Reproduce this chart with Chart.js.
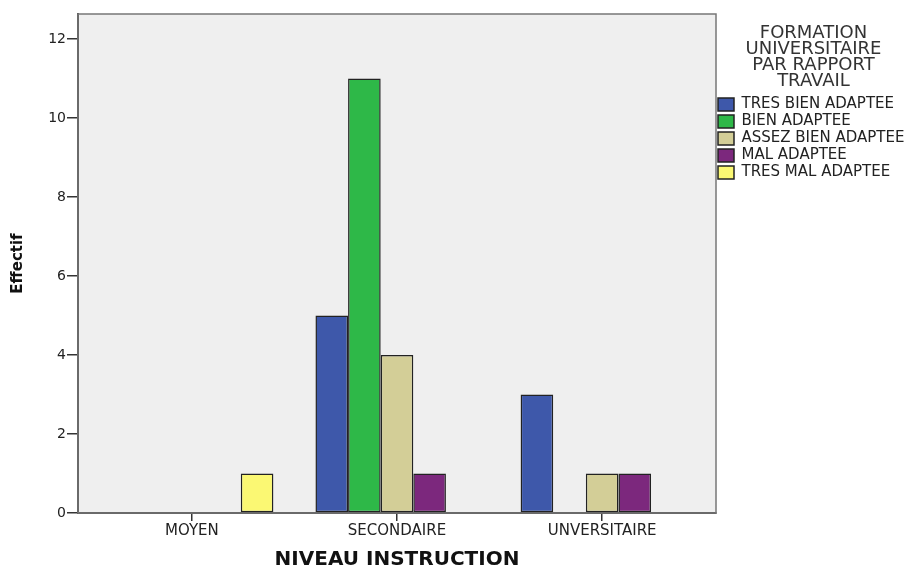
<!DOCTYPE html>
<html lang="fr">
<head>
<meta charset="utf-8">
<title>Effectif par niveau d'instruction</title>
<script src="https://cdn.jsdelivr.net/npm/chart.js@4/dist/chart.umd.min.js"></script>
<style>
  html, body { margin: 0; padding: 0; background: #fff; }
  #wrap { width: 911px; height: 567px; position: relative; }
</style>
</head>
<body>
<div id="wrap"><canvas id="chart"></canvas></div>
<script>
  // categories (axe X) et titre de la légende
  const categories = ['MOYEN', 'SECONDAIRE', 'UNVERSITAIRE'];
  const legendTitle = ['FORMATION', 'UNIVERSITAIRE', 'PAR RAPPORT', 'TRAVAIL'];
  const seriesLabels = ['TRES BIEN ADAPTEE', 'BIEN ADAPTEE', 'ASSEZ BIEN ADAPTEE', 'MAL ADAPTEE', 'TRES MAL ADAPTEE'];

  // effectifs par série (MOYEN, SECONDAIRE, UNVERSITAIRE)
  const tresBienAdaptee  = [0, 5, 3];
  const bienAdaptee      = [0, 11, 0];
  const assezBienAdaptee = [0, 4, 1];
  const malAdaptee       = [0, 1, 1];
  const tresMalAdaptee   = [1, 0, 0];

  const yTicks = [0, 2, 4, 6, 8, 10, 12];

  const seriesValues = [tresBienAdaptee, bienAdaptee, assezBienAdaptee, malAdaptee, tresMalAdaptee];
  const colors = ['#3e58aa', '#2eb848', '#d3ce97', '#7c287d', '#fbf873'];

  const FONT = 'DejaVu Sans';

  // fond gris + cadre de la zone de tracé (style SPSS)
  const frame = {
    id: 'frame',
    beforeDraw(chart) {
      const { ctx, chartArea: a } = chart;
      ctx.save();
      ctx.fillStyle = '#efefef';
      ctx.fillRect(a.left, a.top, a.right - a.left, a.bottom - a.top);
      ctx.restore();
    },
    afterDraw(chart) {
      const { ctx, chartArea: a } = chart;
      ctx.save();
      ctx.strokeStyle = '#777';
      ctx.lineWidth = 1.5;
      ctx.strokeRect(a.left, a.top, a.right - a.left, a.bottom - a.top);
      ctx.restore();
    }
  };

  // zéro = pas de barre, mais la place reste réservée
  const datasets = seriesValues.map((vals, k) => ({
    label: seriesLabels[k],
    data: vals.map((v, i) => ({ x: i, y: v === 0 ? null : v })),
    backgroundColor: colors[k],
    borderColor: '#222',
    borderWidth: 1.5,
    borderSkipped: false,
    categoryPercentage: 0.795,
    barPercentage: 1.0
  }));

  new Chart(document.getElementById('chart'), {
    type: 'bar',
    data: { datasets },
    plugins: [frame],
    options: {
      responsive: true,
      maintainAspectRatio: false,
      animation: false,
      layout: { padding: { top: 14, left: 0, right: 0, bottom: 0 } },
      scales: {
        x: {
          type: 'linear',
          offset: false,
          min: -0.555,
          max: 2.555,
          afterBuildTicks: s => { s.ticks = categories.map((c, i) => ({ value: i })); },
          afterFit: s => { s.height = 54; },
          ticks: {
            callback: v => categories[v],
            autoSkip: false,
            maxRotation: 0,
            padding: 1,
            color: '#222',
            font: { family: FONT, size: 15 }
          },
          grid: { offset: false, drawOnChartArea: false, tickLength: 8, color: '#333', lineWidth: 1.5 },
          border: { color: '#444', width: 2 },
          title: {
            display: true,
            text: 'NIVEAU INSTRUCTION',
            color: '#111',
            font: { family: FONT, size: 20, weight: 'bold', lineHeight: 1.0 },
            padding: { top: 0, bottom: -3 }
          }
        },
        y: {
          min: 0,
          max: 12.63,
          afterBuildTicks: s => { s.ticks = yTicks.map(v => ({ value: v })); },
          afterFit: s => { s.width = 78; },
          ticks: {
            padding: 1,
            color: '#222',
            font: { family: FONT, size: 14 }
          },
          grid: { drawOnChartArea: false, tickLength: 11, color: '#333', lineWidth: 1.5 },
          border: { color: '#444', width: 2 },
          title: {
            display: true,
            text: 'Effectif',
            color: '#111',
            font: { family: FONT, size: 15, weight: 'bold', lineHeight: 1.0 },
            padding: { top: 11, bottom: 0 }
          }
        }
      },
      plugins: {
        tooltip: { enabled: false },
        legend: {
          position: 'right',
          align: 'start',
          maxWidth: 195,
          labels: {
            boxWidth: 16,
            boxHeight: 13,
            padding: 2,
            color: '#222',
            font: { family: FONT, size: 15 }
          },
          title: {
            display: true,
            text: legendTitle,
            color: '#333',
            font: { family: FONT, size: 18, lineHeight: '16px' },
            padding: { top: 10.5, bottom: 54.5 }
          }
        }
      }
    }
  });
</script>
</body>
</html>
